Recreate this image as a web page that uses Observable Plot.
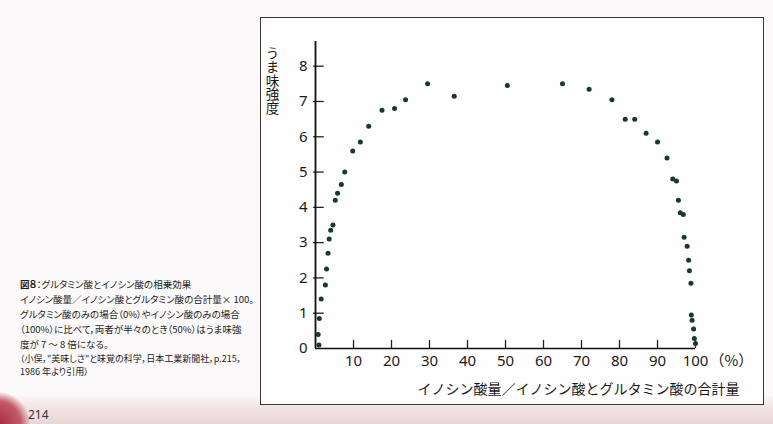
<!DOCTYPE html>
<html><head><meta charset="utf-8">
<script src="https://cdn.jsdelivr.net/npm/d3@7"></script>
<script src="https://cdn.jsdelivr.net/npm/@observablehq/plot@0.6"></script>
<style>
html,body{margin:0;padding:0;}
body{width:773px;height:424px;overflow:hidden;position:relative;background:#fbf9f9;font-family:"Noto Sans CJK JP","Noto Sans",sans-serif;}
#page-bottom{position:absolute;left:0;top:396px;width:773px;height:28px;background:linear-gradient(to bottom,#faf5f5 0%,#f2e4e5 45%,#ead5d7 100%);}
#corner{position:absolute;left:-34px;top:392px;width:64px;height:64px;border-radius:50%;background:radial-gradient(circle,#a52a3c 0%,#c45a68 50%,rgba(235,200,205,0) 72%);}
#frame{position:absolute;left:260px;top:17px;width:502px;height:386px;border:1.5px solid #3b3536;background:#fefefe;}
#caption{position:absolute;left:20px;top:277px;font-size:9.5px;line-height:15px;color:#1c1c1c;white-space:nowrap;font-feature-settings:"palt";}
#caption .src{font-size:9px;line-height:13px;}
#pageno{position:absolute;left:28px;top:408px;font-size:12px;line-height:14px;color:#333;font-family:"Noto Sans",sans-serif;}
</style></head>
<body>
<div id="page-bottom"></div>
<div id="corner"></div>
<div id="caption">
<div><b>図８</b>：グルタミン酸とイノシン酸の相乗効果</div>
<div>イノシン酸量／イノシン酸とグルタミン酸の合計量× 100。</div>
<div>グルタミン酸のみの場合（0%）やイノシン酸のみの場合</div>
<div>（100%）に比べて，両者が半々のとき（50%）はうま味強</div>
<div>度が 7 ～ 8 倍になる。</div>
<div class="src">（小俣，"美味しさ"と味覚の科学，日本工業新聞社，p.215，</div>
<div class="src">1986 年より引用）</div>
</div>
<div id="pageno">214</div>
<div id="frame"></div>
<script>
// Data
const xPct = [0.9, 0.7, 1.0, 1.5, 2.6, 2.9, 3.3, 3.6, 4.0, 4.6, 5.2, 5.8, 6.8, 7.7, 9.8, 11.8, 14.0, 17.5, 20.8, 23.7, 29.5, 36.5, 50.5, 65.0, 72.0, 78.0, 81.5, 84.0, 87.0, 90.0, 92.5, 94.0, 95.0, 95.5, 96.0, 96.8, 97.0, 97.8, 98.2, 98.4, 98.8, 98.9, 99.1, 99.5, 99.7, 100.0];
const yUmami = [0.1, 0.4, 0.85, 1.4, 1.8, 2.25, 2.7, 3.1, 3.35, 3.5, 4.2, 4.4, 4.65, 5.0, 5.6, 5.85, 6.3, 6.75, 6.8, 7.05, 7.5, 7.15, 7.45, 7.5, 7.35, 7.05, 6.5, 6.5, 6.1, 5.85, 5.4, 4.8, 4.75, 4.2, 3.85, 3.8, 3.15, 2.9, 2.5, 2.2, 1.85, 0.95, 0.8, 0.55, 0.28, 0.14];
const xTicks = [10, 20, 30, 40, 50, 60, 70, 80, 90, 100];
const yTicks = [0, 1, 2, 3, 4, 5, 6, 7, 8];
const xDomain = [0, 100];
const yDomain = [0, 8.7];
const xAxisLabel = "イノシン酸量／イノシン酸とグルタミン酸の合計量";
const yAxisLabel = "うま味強度";
const unitLabel = "（%）";

const data = xPct.map((x, i) => ({x, y: yUmami[i]}));
const CJK = '"Noto Sans CJK JP", sans-serif';

const chart = Plot.plot({
  width: 502,
  height: 386,
  marginLeft: 54,
  marginRight: 68,
  marginTop: 23,
  marginBottom: 56,
  x: {domain: xDomain},
  y: {domain: yDomain},
  style: {fontFamily: '"Noto Sans", sans-serif', fontSize: "15px", color: "#1a1a1a", background: "transparent", overflow: "visible"},
  marks: [
    Plot.ruleY(yTicks.slice(1), {x1: -0.5, x2: 2.3, stroke: "#222", strokeWidth: 1.3}),
    Plot.ruleX(xTicks, {y1: 0, y2: 0.23, stroke: "#222", strokeWidth: 1.3}),
    Plot.ruleX([xDomain[0]], {y1: yDomain[0], y2: yDomain[1], stroke: "#111", strokeWidth: 1.8}),
    Plot.ruleY([yDomain[0]], {x1: xDomain[0], x2: xDomain[1], stroke: "#111", strokeWidth: 1.6}),
    Plot.axisY({ticks: yTicks, tickSize: 0, tickPadding: 8, fontSize: 15, label: null}),
    Plot.axisX({ticks: xTicks, tickSize: 0, tickPadding: 7, fontSize: 15, label: null}),
    Plot.dot(data, {x: "x", y: "y", r: 2.5, fill: "#173a2a", stroke: null}),
    Plot.text([yAxisLabel], {frameAnchor: "top-left", text: d => d, dx: -43, dy: -5, textAnchor: "start", fontSize: 13.5, fontFamily: CJK}),
    Plot.text([xAxisLabel], {frameAnchor: "bottom-right", text: d => d, dx: 44, dy: 45, fontSize: 14, textAnchor: "end", fontFamily: CJK}),
    Plot.text([unitLabel], {frameAnchor: "bottom-right", text: d => d, dx: 14, dy: 7, lineAnchor: "top", textAnchor: "start", fontSize: 15, fontFamily: CJK})
  ]
});
// set the y-axis label in vertical Japanese writing
d3.select(chart).selectAll("text")
  .filter(function () { return this.textContent === yAxisLabel; })
  .attr("dy", null)
  .attr("text-anchor", "start")
  .attr("writing-mode", "tb")
  .style("writing-mode", "vertical-rl")
  .style("text-orientation", "upright")
  .style("letter-spacing", "0.3px");
document.getElementById("frame").appendChild(chart);
</script>
</body></html>
